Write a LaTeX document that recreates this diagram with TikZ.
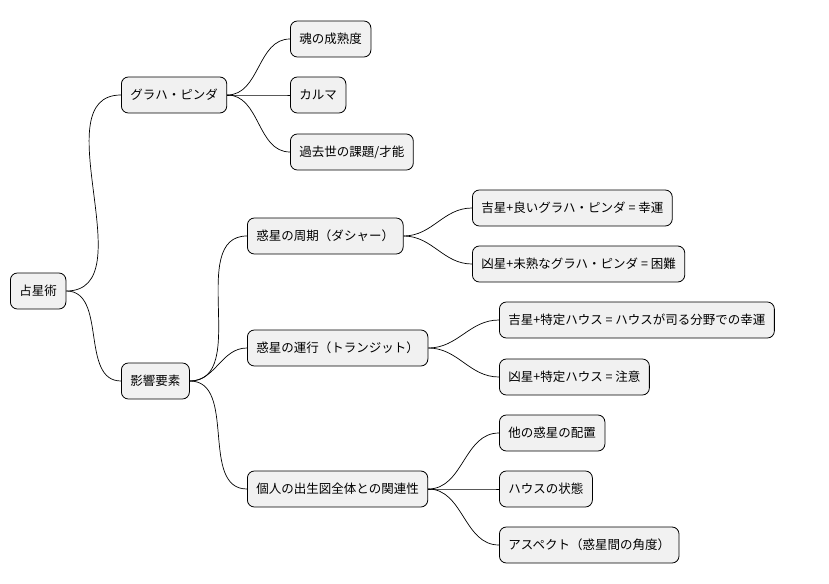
\documentclass[tikz,border=0pt]{standalone}
\usepackage{fontspec}
\setmainfont{Noto Sans CJK JP}
\begin{document}
\begin{tikzpicture}[x=1pt,y=-1pt,
  n/.style={draw=black,fill={rgb,255:red,241;green,241;blue,241},rounded corners=7pt,line width=0.8pt,
    anchor=west,minimum height=36pt,inner xsep=9pt,font=\fontsize{12.5}{14}\selectfont},
  e/.style={line width=0.7pt}]
\useasboundingbox (0,0) rectangle (829,583);
\node[n] (r) at (10,291) {占星術};
\node[n] (g) at (121,95) {グラハ・ピンダ};
\node[n] (k) at (121,381) {影響要素};
\node[n] (g1) at (290,39) {魂の成熟度};
\node[n] (g2) at (290,95) {カルマ};
\node[n] (g3) at (290,152) {過去世の課題/才能};
\node[n] (d) at (247,236) {惑星の周期（ダシャー）};
\node[n] (t) at (247,348) {惑星の運行（トランジット）};
\node[n] (p) at (247,489) {個人の出生図全体との関連性};
\node[n] (d1) at (472,208) {吉星+良いグラハ・ピンダ = 幸運};
\node[n] (d2) at (472,264) {凶星+未熟なグラハ・ピンダ = 困難};
\node[n] (t1) at (499,320) {吉星+特定ハウス = ハウスが司る分野での幸運};
\node[n] (t2) at (499,377) {凶星+特定ハウス = 注意};
\node[n] (p1) at (499,433) {他の惑星の配置};
\node[n] (p2) at (499,489) {ハウスの状態};
\node[n] (p3) at (499,545) {アスペクト（惑星間の角度）};
\foreach \a/\b in {r/g,r/k,g/g1,g/g2,g/g3,k/d,k/t,k/p,d/d1,d/d2,t/t1,t/t2,p/p1,p/p2,p/p3}{
  \draw[e] (\a.east) to[out=0,in=180] (\b.west);
}
\end{tikzpicture}
\end{document}
